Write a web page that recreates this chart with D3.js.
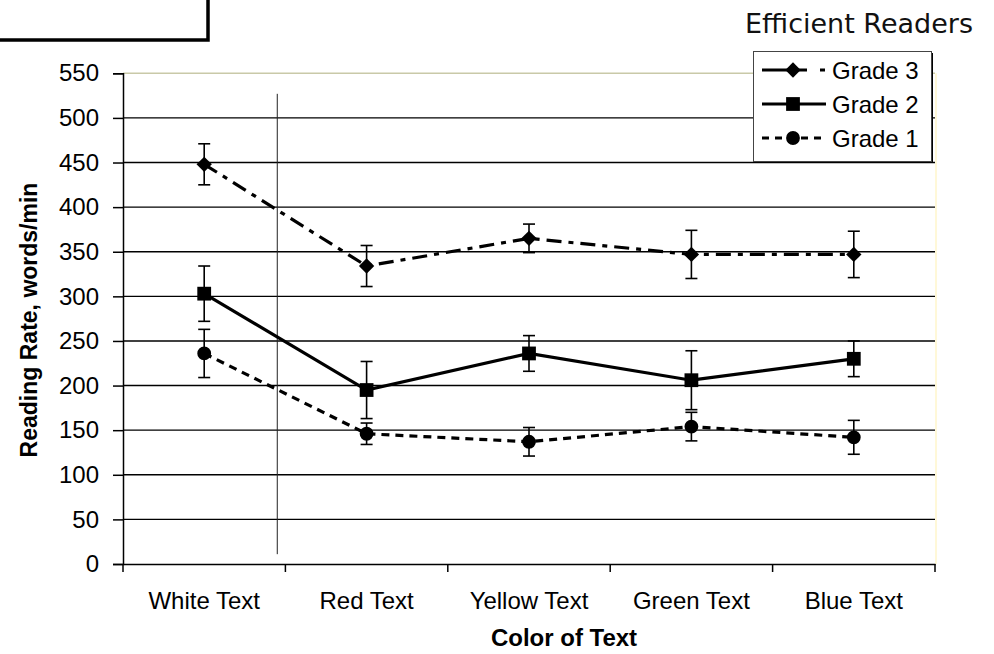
<!DOCTYPE html>
<html>
<head>
<meta charset="utf-8">
<script src="https://cdn.jsdelivr.net/npm/d3@7"></script>
<style>
  body { margin: 0; background: #fff; }
  svg { display: block; font-family: "Liberation Sans", Arial, sans-serif; }
</style>
</head>
<body>
<svg id="chart" width="994" height="654"></svg>
<script>
var categories = ["White Text", "Red Text", "Yellow Text", "Green Text", "Blue Text"];
var yTicks = [0, 50, 100, 150, 200, 250, 300, 350, 400, 450, 500, 550];

var grade3 = [448, 334, 365, 347, 347];
var grade3Err = [23, 23, 16, 27, 26];
var grade2 = [303, 195, 236, 206, 230];
var grade2Err = [31, 32, 20, 33, 20];
var grade1 = [236, 146, 137, 154, 142];
var grade1Err = [27, 12, 16, 16, 19];

var seriesNames = ["Grade 3", "Grade 2", "Grade 1"];

var svg = d3.select("#chart");
var plotLeft = 123, plotRight = 935, plotTop = 73.3, plotBottom = 564;

var x = d3.scaleBand().domain(categories).range([plotLeft, plotRight]);
var y = d3.scaleLinear().domain([0, 550]).range([plotBottom, plotTop]);

// box cut off at top-left corner
svg.append("rect")
  .attr("x", -10).attr("y", -10).attr("width", 218).attr("height", 50)
  .attr("fill", "#fff").attr("stroke", "#000").attr("stroke-width", 3.5);

// title
svg.append("text")
  .attr("x", 973).attr("y", 33)
  .attr("text-anchor", "end")
  .style("font-family", "'DejaVu Sans', Verdana, sans-serif")
  .style("font-size", "27px")
  .attr("fill", "#111")
  .text("Efficient Readers");

// gridlines
svg.append("g").selectAll("line")
  .data(yTicks.filter(function(d) { return d > 0 && d < 550; }))
  .enter().append("line")
  .attr("x1", plotLeft).attr("x2", plotRight)
  .attr("y1", function(d) { return y(d); })
  .attr("y2", function(d) { return y(d); })
  .attr("stroke", "#000").attr("stroke-width", 1.4);

// plot frame top + right (pale)
svg.append("line")
  .attr("x1", plotLeft).attr("x2", plotRight).attr("y1", y(550)).attr("y2", y(550))
  .attr("stroke", "#c9c9a8").attr("stroke-width", 1.5);
svg.append("line")
  .attr("x1", plotRight + 1).attr("x2", plotRight + 1).attr("y1", y(550)).attr("y2", y(0))
  .attr("stroke", "#fff8d8").attr("stroke-width", 2);

// y axis
var yAxis = d3.axisLeft(y).tickValues(yTicks).tickSize(10).tickPadding(14).tickFormat(d3.format("d"));
var gy = svg.append("g").attr("transform", "translate(" + plotLeft + ",0)").call(yAxis);
gy.select(".domain").attr("stroke", "#000").attr("stroke-width", 1.5);
gy.selectAll(".tick line").attr("stroke", "#000").attr("stroke-width", 1.5);
gy.selectAll("text").style("font-size", "24px").attr("fill", "#000")
  .style("font-family", "'Liberation Sans', Arial, sans-serif");

// x axis
var xAxis = d3.axisBottom(x).tickSize(0).tickPadding(28);
var gx = svg.append("g").attr("transform", "translate(0," + plotBottom + ")").call(xAxis);
gx.select(".domain").attr("stroke", "#000").attr("stroke-width", 1.5);
gx.selectAll("text").style("font-size", "24px").attr("fill", "#000")
  .style("font-family", "'Liberation Sans', Arial, sans-serif");
// ticks between categories
var bounds = categories.map(function(c) { return x(c); }).concat([plotRight]);
gx.selectAll(".sep").data(bounds).enter().append("line")
  .attr("x1", function(d) { return d; }).attr("x2", function(d) { return d; })
  .attr("y1", 0).attr("y2", 8)
  .attr("stroke", "#000").attr("stroke-width", 1.5);

// axis titles
svg.append("text")
  .attr("x", 564).attr("y", 646)
  .attr("text-anchor", "middle")
  .style("font-size", "24px").style("font-weight", "bold")
  .text("Color of Text");
svg.append("text")
  .attr("transform", "translate(37," + 320 + ") rotate(-90)")
  .attr("text-anchor", "middle")
  .style("font-size", "23px").style("font-weight", "bold")
  .text("Reading Rate, words/min");

// separator line after White Text
var sepX = x("White Text") + x.bandwidth() * 0.95;
svg.append("line")
  .attr("x1", sepX).attr("x2", sepX).attr("y1", y(527)).attr("y2", y(11))
  .attr("stroke", "#222").attr("stroke-width", 1);

var cx = function(i) { return x(categories[i]) + x.bandwidth() / 2; };

var series = [
  { name: "Grade 3", vals: grade3, err: grade3Err, dash: "15,7,5,7", marker: d3.symbolDiamond2, size: 150 },
  { name: "Grade 2", vals: grade2, err: grade2Err, dash: null, marker: d3.symbolSquare, size: 190 },
  { name: "Grade 1", vals: grade1, err: grade1Err, dash: "8,6", marker: d3.symbolCircle, size: 150 }
];

var line = d3.line()
  .x(function(d, i) { return cx(i); })
  .y(function(d) { return y(d); });

series.forEach(function(s) {
  var g = svg.append("g");
  g.append("path")
    .attr("d", line(s.vals))
    .attr("fill", "none").attr("stroke", "#000").attr("stroke-width", 3.2)
    .attr("stroke-dasharray", s.dash);

  // error bars
  var eb = g.selectAll(".eb").data(s.vals).enter().append("g");
  eb.append("line")
    .attr("x1", function(d, i) { return cx(i); }).attr("x2", function(d, i) { return cx(i); })
    .attr("y1", function(d, i) { return y(d + s.err[i]); })
    .attr("y2", function(d, i) { return y(d - s.err[i]); })
    .attr("stroke", "#000").attr("stroke-width", 1.6);
  [1, -1].forEach(function(sign) {
    eb.append("line")
      .attr("x1", function(d, i) { return cx(i) - 6; }).attr("x2", function(d, i) { return cx(i) + 6; })
      .attr("y1", function(d, i) { return y(d + sign * s.err[i]); })
      .attr("y2", function(d, i) { return y(d + sign * s.err[i]); })
      .attr("stroke", "#000").attr("stroke-width", 1.6);
  });

  g.selectAll(".mk").data(s.vals).enter().append("path")
    .attr("d", d3.symbol().type(s.marker).size(s.size))
    .attr("transform", function(d, i) { return "translate(" + cx(i) + "," + y(d) + ")"; })
    .attr("fill", "#000");
});

// legend
var legend = svg.append("g");
legend.append("rect")
  .attr("x", 755).attr("y", 53).attr("width", 178).attr("height", 110)
  .attr("fill", "#000");
legend.append("rect")
  .attr("x", 753.5).attr("y", 51.5).attr("width", 178).attr("height", 110)
  .attr("fill", "#fff").attr("stroke", "#444").attr("stroke-width", 1);

var legendY = [70, 104, 138];
var legendDash = ["45,13,5,100", null, "7,6"];
series.forEach(function(s, i) {
  var ly = legendY[i];
  legend.append("line")
    .attr("x1", 762).attr("x2", 826).attr("y1", ly).attr("y2", ly)
    .attr("stroke", "#000").attr("stroke-width", 3.2)
    .attr("stroke-dasharray", legendDash[i]);
  legend.append("path")
    .attr("d", d3.symbol().type(s.marker).size(s.size))
    .attr("transform", "translate(793," + ly + ")")
    .attr("fill", "#000");
  legend.append("text")
    .attr("x", 832).attr("y", ly + 8.5)
    .style("font-size", "24px")
    .text(s.name);
});
</script>
</body>
</html>
